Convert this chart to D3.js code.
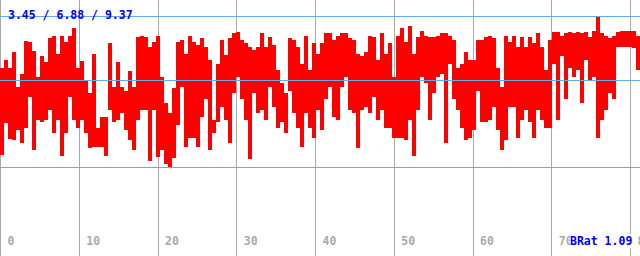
<!DOCTYPE html>
<html>
<head>
<meta charset="utf-8">
<script src="https://cdn.jsdelivr.net/npm/d3@7"></script>
<style>
  body { margin: 0; background: #fff; }
  text { font-family: "DejaVu Sans Mono", monospace; font-weight: bold; font-size: 11.5px; }
</style>
</head>
<body>
<div id="canvas"></div>
<script>
// tick labels along the bottom
const xTicks = [0, 10, 20, 30, 40, 50, 60, 70, 80];
// min / avg / max shown as the blue lines
const stats = [3.45, 6.88, 9.37];
const ratio = 1.09;

// per-column high and low of the signal (160 columns)
const hi = [
  7.33, 7.65, 7.33, 7.96, 6.6, 7.1, 8.4, 8.35, 8.0, 7.0,
  7.8, 7.55, 8.5, 8.6, 7.9, 8.6, 8.35, 8.6, 8.9, 7.35,
  7.6, 6.85, 6.35, 7.9, 5.0, 5.4, 5.4, 8.3, 6.6, 7.55,
  6.6, 6.45, 7.2, 6.6, 8.55, 8.6, 8.55, 8.15, 8.35, 8.6,
  7.0, 5.95, 5.55, 6.55, 8.35, 8.45, 7.9, 8.6, 8.35, 8.25,
  8.5, 8.15, 7.65, 5.3, 7.5, 8.45, 7.85, 8.5, 8.7, 8.75,
  8.45, 8.3, 8.15, 8.05, 8.15, 8.7, 8.15, 8.55, 8.25, 7.25,
  6.75, 6.35, 8.5, 8.45, 8.15, 7.5, 8.6, 7.25, 8.3, 7.9,
  8.3, 8.7, 8.7, 8.45, 8.6, 8.7, 8.7, 8.5, 8.45, 7.9,
  7.8, 7.95, 8.6, 8.55, 7.65, 8.7, 7.9, 8.3, 7.0, 8.6,
  8.9, 8.35, 9.0, 7.9, 8.55, 8.8, 8.6, 8.55, 8.55, 8.6,
  8.7, 8.7, 8.6, 8.45, 7.35, 7.5, 7.95, 7.65, 7.65, 8.45,
  8.45, 8.55, 8.6, 8.5, 7.35, 6.6, 8.6, 8.35, 8.6, 8.15,
  8.55, 8.15, 8.55, 8.3, 8.7, 8.15, 7.25, 8.45, 8.75, 8.75,
  8.6, 8.7, 8.75, 8.7, 8.75, 8.7, 8.75, 8.55, 8.8, 9.35,
  8.7, 8.6, 8.5, 8.6, 8.75, 8.8, 8.8, 8.8, 8.8, 8.6
];
const lo = [
  3.92, 5.18, 4.55, 4.5, 4.9, 4.4, 5.0, 6.2, 4.1, 5.3,
  5.2, 5.3, 5.7, 4.8, 5.3, 3.9, 4.8, 6.2, 5.3, 5.0,
  5.3, 4.8, 4.2, 4.25, 4.25, 4.25, 3.9, 5.7, 5.2, 5.3,
  5.55, 4.9, 4.5, 4.1, 5.3, 5.7, 5.7, 3.7, 5.7, 3.85,
  4.1, 3.55, 3.45, 3.8, 5.1, 6.6, 4.25, 4.6, 4.6, 4.25,
  5.4, 6.1, 4.1, 4.8, 5.2, 5.8, 5.3, 4.4, 6.35, 7.0,
  6.1, 5.3, 3.75, 6.35, 5.55, 5.7, 5.3, 6.6, 5.8, 5.0,
  5.2, 4.8, 6.45, 5.55, 5.0, 4.25, 5.55, 5.0, 4.6, 5.7,
  4.9, 6.1, 6.6, 5.4, 5.3, 6.6, 7.0, 5.7, 5.55, 4.2,
  5.7, 5.8, 5.55, 6.2, 5.3, 5.7, 5.0, 5.0, 4.6, 4.6,
  4.6, 4.5, 5.3, 3.9, 5.7, 7.0, 6.75, 5.3, 6.35, 7.0,
  7.1, 4.4, 7.5, 6.1, 5.7, 5.0, 4.5, 4.6, 4.9, 6.45,
  5.2, 5.2, 5.3, 5.8, 4.9, 4.1, 4.5, 5.8, 5.8, 4.6,
  5.3, 5.7, 5.2, 4.6, 5.7, 5.3, 5.0, 5.0, 7.5, 5.3,
  7.8, 6.1, 7.35, 7.0, 7.25, 5.95, 7.65, 6.85, 7.0, 4.6,
  5.3, 5.7, 6.35, 6.1, 8.15, 8.15, 8.15, 8.15, 8.1, 7.25
];

const width = 640;
const height = 256;

const svg = d3.select("#canvas").append("svg")
  .attr("width", width)
  .attr("height", height)
  .style("display", "block");

const x = d3.scaleLinear().domain([0, 80]).range([0, 630]);
const y = d3.scaleLinear().domain([0, 10]).range([255, 0]);
const col = d3.scaleBand().domain(d3.range(hi.length)).range([0, width]);

// vertical grid
svg.append("g").selectAll("line").data(xTicks).enter().append("line")
  .attr("x1", (d) => Math.round(x(d)) + 0.5)
  .attr("x2", (d) => Math.round(x(d)) + 0.5)
  .attr("y1", 0)
  .attr("y2", height)
  .attr("stroke", "#aaaaaa");

// signal
svg.append("g").attr("shape-rendering", "crispEdges")
  .selectAll("rect").data(hi).enter().append("rect")
  .attr("x", (d, i) => col(i))
  .attr("width", col.bandwidth())
  .attr("y", (d) => y(d))
  .attr("height", (d, i) => y(lo[i]) - y(d))
  .attr("fill", "#ff0000");

// min / avg / max lines
svg.append("g").selectAll("line").data(stats).enter().append("line")
  .attr("x1", 0)
  .attr("x2", width)
  .attr("y1", (d) => Math.round(y(d)) + 0.5)
  .attr("y2", (d) => Math.round(y(d)) + 0.5)
  .attr("stroke", "#66aaf0");

// bottom labels
const axis = svg.append("g")
  .attr("transform", `translate(0, 245)`)
  .call(d3.axisBottom(x).tickValues(xTicks).tickSize(0).tickPadding(0));
axis.select(".domain").remove();
axis.selectAll("text")
  .attr("y", 0)
  .attr("dy", 0)
  .attr("dx", 7)
  .attr("text-anchor", "start")
  .attr("fill", "#aaaaaa")
  .style("font-family", "DejaVu Sans Mono, monospace")
  .style("font-weight", "bold")
  .style("font-size", "11.5px");

svg.append("text")
  .attr("x", 8)
  .attr("y", 19)
  .attr("fill", "#0000ff")
  .text(stats.map((d) => d.toFixed(2)).join(" / "));

const rat = svg.append("g");
const ratText = rat.append("text")
  .attr("x", 570)
  .attr("y", 245)
  .attr("fill", "#0000ff")
  .text("BRat " + ratio.toFixed(2));
const bb = ratText.node().getBBox();
rat.insert("rect", "text")
  .attr("x", bb.x)
  .attr("y", bb.y)
  .attr("width", bb.width)
  .attr("height", bb.height)
  .attr("fill", "#fff");
</script>
</body>
</html>
